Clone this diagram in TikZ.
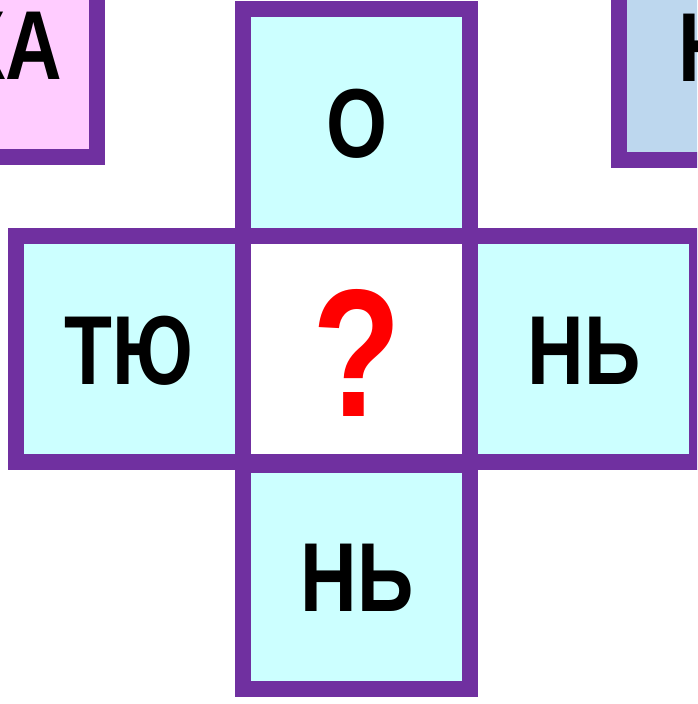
\documentclass[tikz,border=0pt]{standalone}
\usepackage{fontspec}
\setmainfont{Liberation Sans}
\newfontfamily\narrowbold[FakeStretch=0.8]{Liberation Sans Bold}
\definecolor{frame}{HTML}{7030A0}
\definecolor{cellc}{HTML}{CCFFFF}
\definecolor{pinkc}{HTML}{FFCCFF}
\definecolor{bluec}{HTML}{BDD7EE}
\tikzset{
  cell/.style={draw=frame, line width=16pt, line join=miter},
  lbl/.style={font=\narrowbold\fontsize{98}{98}\selectfont, text=black, inner sep=0pt, anchor=base},
  qm/.style={font=\narrowbold\fontsize{182}{182}\selectfont, text=red, inner sep=0pt, anchor=base}
}
\begin{document}
\begin{tikzpicture}[x=1pt,y=-1pt]
\useasboundingbox (0,0) rectangle (697,704);
\clip (0,0) rectangle (697,704);
% side boxes
\path[cell, fill=pinkc] (-250,-100) rectangle (97,157);
\path[cell, fill=bluec] (619,-100) rectangle (950,160);
% cross
\path[cell, fill=cellc] (243,9) rectangle (470,236);
\path[cell, fill=cellc] (16,236) rectangle (243,462);
\path[cell, fill=cellc] (470,236) rectangle (697,462);
\path[cell, fill=cellc] (243,465) rectangle (470,689);
\path[cell, fill=white] (243,236) rectangle (470,462);
% labels
\node[lbl, anchor=base east] (ka) at (62,79) {КА};
\node[lbl, anchor=base west] (n) at (678,81) {Н};
\node[lbl] (o) at (357,157) {О};
\node[lbl] (tyu) at (129,384) {ТЮ};
\node[lbl] (nr) at (584,384) {НЬ};
\node[lbl] (nb) at (357,611) {НЬ};
\node[qm] (q) at (357,416) {?};
\end{tikzpicture}
\end{document}
